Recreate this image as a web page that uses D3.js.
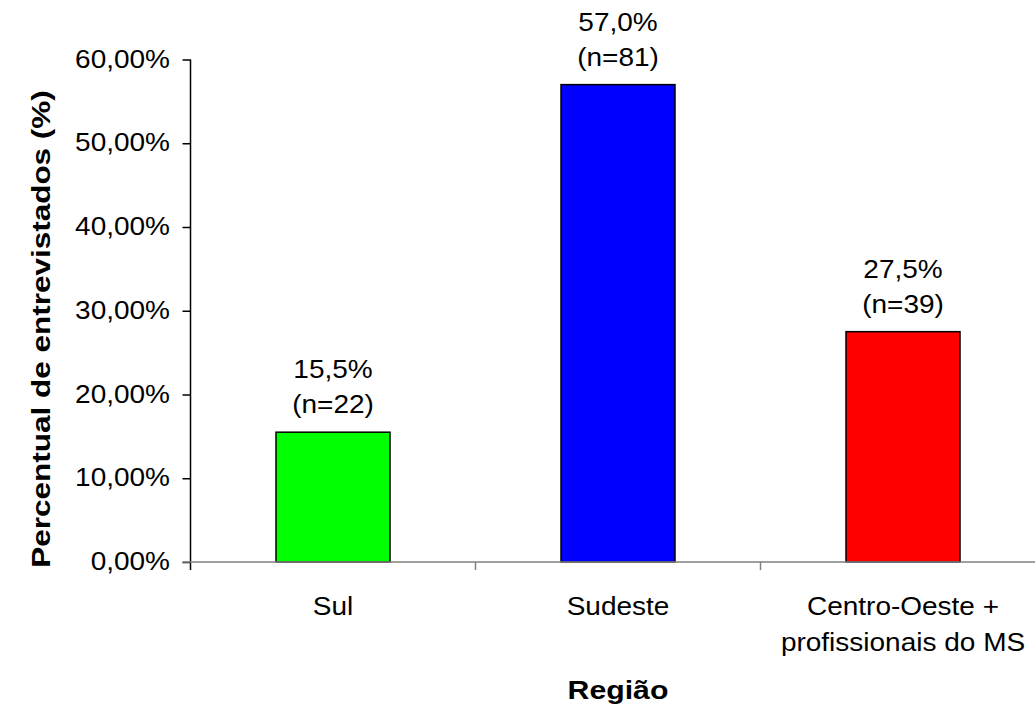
<!DOCTYPE html>
<html>
<head>
<meta charset="utf-8">
<script src="https://cdn.jsdelivr.net/npm/d3@7"></script>
<style>
  html, body { margin: 0; padding: 0; background: #fff; }
  svg { display: block; }
  text { font-family: "Liberation Sans", Arial, sans-serif; fill: #000; }
</style>
</head>
<body>
<svg id="chart" width="1035" height="709"></svg>
<script>
// Respondents by region
const categories = ["Sul", "Sudeste", "Centro-Oeste +\nprofissionais do MS"];
const percents = [15.5, 57.0, 27.5];
const counts = [22, 81, 39];
const barColors = ["#00ff00", "#0000ff", "#ff0000"];
const yTicks = [0, 10, 20, 30, 40, 50, 60];
const yTitle = "Percentual de entrevistados (%)";
const xTitle = "Região";

const svg = d3.select("#chart");
const plot = { left: 190.5, right: 1045.5, top: 59.5, bottom: 562 };

const x = d3.scaleBand()
  .domain(categories)
  .range([plot.left, plot.right])
  .paddingInner(0.6)
  .paddingOuter(0.3);

const y = d3.scaleLinear().domain([0, 60]).range([plot.bottom, plot.top]);

const comma = d3.formatLocale({ decimal: ",", thousands: ".", grouping: [3], currency: ["", ""] });
const fmtTick = v => comma.format(".2f")(v) + "%";
const fmtVal = v => comma.format(".1f")(v) + "%";

// Wide text, as the original chart renders its Arial labels
const SX = 1.12;
function label(g, str, tx, ty, opts = {}) {
  return g.append("text")
    .attr("transform", `translate(${tx},${ty})${opts.rotate ? ` rotate(${opts.rotate})` : ""} scale(${opts.sx || SX},1)`)
    .attr("text-anchor", opts.anchor || "middle")
    .style("font-size", (opts.size || 25) + "px")
    .style("font-weight", opts.bold ? "bold" : "normal")
    .text(str);
}

// Bars
svg.append("g").selectAll("rect")
  .data(percents)
  .join("rect")
  .attr("x", (d, i) => x(categories[i]))
  .attr("y", d => y(d))
  .attr("width", x.bandwidth())
  .attr("height", d => y(0) - y(d))
  .attr("fill", (d, i) => barColors[i])
  .attr("stroke", "#000")
  .attr("stroke-width", 1.5);

// Y axis
const yAxis = svg.append("g")
  .attr("transform", `translate(${plot.left},0)`)
  .call(d3.axisLeft(y).tickValues(yTicks).tickSize(8).tickFormat(""));
yAxis.select(".domain").attr("d", `M0,${plot.top}V${plot.bottom + 8}`).attr("stroke", "#000").attr("stroke-width", 1.5);
yAxis.selectAll(".tick line").attr("stroke", "#000").attr("stroke-width", 1.5);

const yLab = svg.append("g");
yTicks.forEach(v => label(yLab, fmtTick(v), 170, y(v) + 8, { anchor: "end" }));

// X axis with category separators
const xg = svg.append("g");
xg.append("line")
  .attr("x1", plot.left - 8).attr("x2", plot.right)
  .attr("y1", plot.bottom).attr("y2", plot.bottom)
  .attr("stroke", "#808080").attr("stroke-width", 1.5);
const step = x.step();
const bounds = categories.slice(1).map(c => x(c) - step * x.paddingInner() / 2);
xg.selectAll("line.sep")
  .data(bounds)
  .join("line")
  .attr("class", "sep")
  .attr("x1", d => d).attr("x2", d => d)
  .attr("y1", plot.bottom).attr("y2", plot.bottom + 8)
  .attr("stroke", "#808080").attr("stroke-width", 1.5);

// Category labels
const xLab = svg.append("g");
categories.forEach(c => {
  const cx = x(c) + x.bandwidth() / 2;
  c.split("\n").forEach((line, k) => label(xLab, line, cx, 615 + k * 36));
});

// Value labels above bars
const vLab = svg.append("g");
percents.forEach((p, i) => {
  const cx = x(categories[i]) + x.bandwidth() / 2;
  const top = y(p);
  label(vLab, fmtVal(p), cx, top - 54);
  label(vLab, `(n=${counts[i]})`, cx, top - 19);
});

// Axis titles
label(svg, xTitle, (plot.left + plot.right) / 2, 699, { bold: true, sx: 1.21 });
label(svg, yTitle, 50, 329, { bold: true, sx: 1.26, rotate: -90 });
</script>
</body>
</html>
